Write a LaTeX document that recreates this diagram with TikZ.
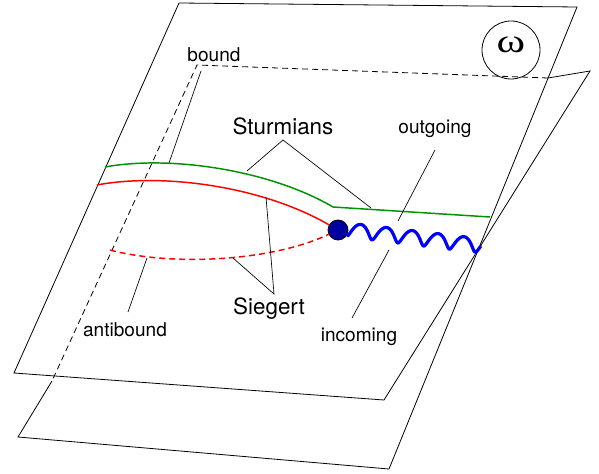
\documentclass[tikz,border=0pt]{standalone}
\usepackage{fontspec}
\setmainfont{TeX Gyre Heros}
\newfontfamily\greekserif{Liberation Serif}
\definecolor{sgreen}{RGB}{0,145,0}
\definecolor{sred}{RGB}{255,0,0}
\definecolor{sblue}{RGB}{0,0,255}
\definecolor{dotblue}{RGB}{0,0,160}
\begin{document}
\begin{tikzpicture}[x=0.75pt,y=-0.75pt,
  sheet/.style={line width=0.6pt, black},
  hidden/.style={line width=0.6pt, black, dashed, dash pattern=on 4.5pt off 3pt},
  leader/.style={line width=0.5pt, black},
  small/.style={font=\fontsize{14.3}{16}\selectfont, inner sep=0pt, anchor=base},
  big/.style={font=\fontsize{16.8}{19}\selectfont, inner sep=0pt, anchor=base},
  curve/.style={line width=1.1pt}]
\useasboundingbox (0,0) rectangle (599,474);
% sheet corners
\coordinate (A1) at (179,3);
\coordinate (A2) at (577,7);
\coordinate (A3) at (389,469);
\coordinate (B4) at (18,437);
\coordinate (A4) at (14,373);
\coordinate (A5) at (384,400);
\coordinate (B2) at (590,71);
\coordinate (Bx) at (548,78);
\coordinate (B1) at (197,65);
\coordinate (By) at (52,381);
\draw[sheet] (A1) -- (A2) -- (A3) -- (B4) -- (By);
\draw[sheet] (A1) -- (A4) -- (A5) -- (B2) -- (Bx);
\draw[hidden] (Bx) -- (B1) -- (By);
% omega
\node[draw, circle, line width=0.6pt, minimum size=43.5pt, inner sep=0pt] (omega) at (511,50) {};
\node[font=\fontsize{25}{25}\greekserif, xscale=1.3, inner sep=0pt] (omegasym) at (511,45) {ω};
% dot and cut
\node[draw, circle, fill=dotblue, line width=0.6pt, minimum size=15pt, inner sep=0pt] (dot) at (338,230) {};
\coordinate (cut) at (480,246);
% curves
\draw[curve, sgreen] (105,167) .. controls (170,155) and (270,170) .. (333,207) coordinate (gk) -- (490,217) coordinate (gend);
\draw[curve, sred] (97,185) .. controls (160,173) and (260,185) .. (dot);
\draw[curve, sred, dashed, dash pattern=on 4.5pt off 3pt] (110,250) .. controls (170,266) and (270,262) .. (dot);
% wave (branch cut)
\begin{scope}[shift={(dot.east)}, x={(0.99301pt,-0.11806pt)}, y={(0.11806pt,0.99301pt)}]
\draw[sblue, line width=2.4pt, line cap=round, line join=round]
  plot[domain=0:1854, samples=300, variable=\t]
  ({(\t/360)*19.5 + 1.2*(cos(-60) - cos(\t-60))}, {5.25*sin(\t-60)});
\end{scope}
% labels
\node[small] (bound) at (214,62) {bound};
\node[big] (sturm) at (283,135) {Sturmians};
\node[small] (outg) at (435,134) {outgoing};
\node[big] (sieg) at (269,314) {Siegert};
\node[small] (anti) at (125,336) {antibound};
\node[small] (inc) at (359,341) {incoming};
% leader endpoints
\coordinate (lb1) at (201,71); \coordinate (lb2) at (169,163);
\coordinate (s0) at (283,140); \coordinate (s1) at (247,171); \coordinate (s2) at (371,208);
\coordinate (o1) at (435,150); \coordinate (o2) at (398,221);
\coordinate (g0) at (274,294); \coordinate (g1) at (266,197); \coordinate (g2) at (233,258);
\coordinate (a1) at (128,312); \coordinate (a2) at (147,258);
\coordinate (i1) at (352,318); \coordinate (i2) at (389,250);
\draw[leader] (lb1) -- (lb2);
\draw[leader] (s1) -- (s0) -- (s2);
\draw[leader] (o1) -- (o2);
\draw[leader] (g1) -- (g0) -- (g2);
\draw[leader] (a1) -- (a2);
\draw[leader] (i1) -- (i2);
\end{tikzpicture}
\end{document}
